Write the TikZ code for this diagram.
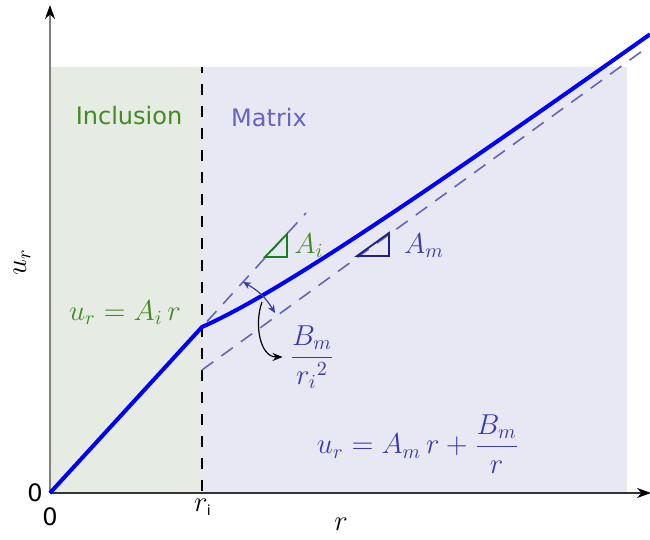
\documentclass[tikz,border=0pt]{standalone}
\usepackage{amsmath}
\usepackage{fontspec}
\setsansfont{DejaVu Sans}
\usepackage{xcolor}
\usepackage{tikz}
\usetikzlibrary{arrows.meta, positioning, calc}

\definecolor{inclfill}{RGB}{230,235,227}
\definecolor{matfill}{RGB}{232,232,244}
\definecolor{inclgreen}{RGB}{64,140,32}
\definecolor{trigreen}{RGB}{20,130,20}
\definecolor{matblue}{RGB}{100,100,200}
\definecolor{eqblue}{RGB}{58,58,175}
\definecolor{triblue}{RGB}{30,30,140}
\definecolor{dashblue}{RGB}{100,100,190}

\begin{document}
\begin{tikzpicture}[x=0.5pt, y=0.5pt,
    asse/.style={line width=0.8pt, -{Stealth[length=7pt, width=5pt, black]}},
    tratteggio/.style={dashblue, line width=0.8pt, dash pattern=on 7pt off 5pt},
    etichetta/.style={font=\sffamily\fontsize{12}{14}\selectfont}]
    \useasboundingbox (-50,-47) rectangle (600,493);

    % Regioni (inclusione e matrice)
    \fill[inclfill] (0,0) rectangle (152,426);
    \fill[matfill] (152,0) rectangle (577,426);

    % Interfaccia r = r_i
    \draw[black, line width=0.6pt, dash pattern=on 5.5pt off 5.5pt] (152,2) -- (152,426);

    % Assi
    \draw[asse, gray] (0,0) -- (0,488);
    \draw[asse, black!80] (0,0) -- (601,0);

    % Asintoti tratteggiati
    \draw[tratteggio] (157,171.5) -- (256,280);
    \draw[tratteggio] (152,123) -- (595,444);

    % Spostamento radiale u_r
    \draw[blue, line width=2pt, line join=round] (0,0) -- (152,166)
        -- plot[domain=152:600, samples=60, smooth] (\x, {123+0.725*(\x-152)+6536/\x});

    % Triangoli delle pendenze
    \draw[trigreen, line width=0.9pt] (215,236) -- (237,236) -- (237,259) -- cycle;
    \draw[triblue, line width=0.9pt] (307,237) -- (339,237) -- (339,260) -- cycle;
    \node[inclgreen, font=\Large] (Ai) at (259,247) {$A_i$};
    \node[eqblue, font=\Large] (Am) at (374,247) {$A_m$};

    % Etichette delle regioni
    \node[etichetta, inclgreen] (incl) at (79,377) {Inclusion};
    \node[etichetta, matblue] (matr) at (219,375) {Matrix};
    \node[inclgreen, font=\Large] (eqi) at (75,180) {$u_r = A_i\,r$};
    \node[eqblue, font=\Large] (eqm) at (368,49) {$u_r = A_m\,r + \dfrac{B_m}{r}$};
    \node[eqblue, font=\Large] (frac) at (262,136) {$\dfrac{B_m}{{r_i}^2}$};

    % Salto B_m/r_i^2
    \coordinate (sa) at (193,211);
    \coordinate (sb) at (225,180);
    \draw[eqblue, line width=0.6pt, {Stealth[length=4pt, width=3.5pt]}-{Stealth[length=4pt, width=3.5pt]}] (sa) to[bend left=15] (sb);
    \coordinate (pk) at (212,191);
    \draw[line width=0.6pt, -{Stealth[length=5pt, width=4pt]}] (pk) to[out=250, in=180] (frac.west);

    % Etichette degli assi
    \node[etichetta] (zy) at (-15,0) {0};
    \node[etichetta] (zx) at (0,-24) {0};
    \node[font=\Large] (ri) at (153,-14) {$r_{\textsf{\scriptsize i}}$};
    \node[rotate=90, font=\Large] (ur) at (-28,231) {$u_r$};
    \node[font=\Large] (rr) at (291,-31) {$r$};
\end{tikzpicture}
\end{document}
